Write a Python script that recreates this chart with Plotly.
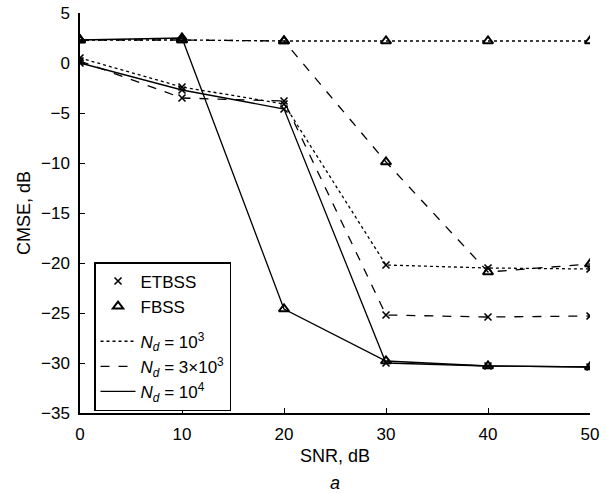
import plotly.graph_objects as go

snr = [0, 10, 20, 30, 40, 50]

# ETBSS (x markers)
etbss_1e3 = [0.5, -2.4, -4.1, -20.2, -20.5, -20.6]
etbss_3e3 = [0.2, -3.5, -3.8, -25.2, -25.4, -25.3]
etbss_1e4 = [0.0, -2.7, -4.6, -30.0, -30.3, -30.4]

# FBSS (triangle markers)
fbss_1e3 = [2.3, 2.3, 2.2, 2.2, 2.2, 2.2]
fbss_3e3 = [2.3, 2.3, 2.2, -9.9, -20.9, -20.1]
fbss_1e4 = [2.3, 2.5, -24.6, -29.8, -30.3, -30.4]

nd_labels = ["<i>N</i><sub><i>d</i></sub> = 10<sup>3</sup>",
             "<i>N</i><sub><i>d</i></sub> = 3\u00d710<sup>3</sup>",
             "<i>N</i><sub><i>d</i></sub> = 10<sup>4</sup>"]
dashes = ["dot", "dash", "solid"]

fig = go.Figure()
FONT = "Liberation Sans, Arial, sans-serif"

x_marker = dict(symbol="x-thin-open", size=7, color="black", line=dict(color="black", width=1.6))
tri_marker = dict(symbol="triangle-up-open", size=9, color="black", line=dict(color="black", width=2))

for ys, d in zip([etbss_1e3, etbss_3e3, etbss_1e4], dashes):
    fig.add_trace(go.Scatter(x=snr, y=ys, mode="lines+markers",
                             line=dict(color="black", width=1.3, dash=d),
                             marker=x_marker, showlegend=False))
for ys, d in zip([fbss_1e3, fbss_3e3, fbss_1e4], dashes):
    fig.add_trace(go.Scatter(x=snr, y=ys, mode="lines+markers",
                             line=dict(color="black", width=1.3, dash=d),
                             marker=tri_marker, showlegend=False))

# legend entries
fig.add_trace(go.Scatter(x=[None], y=[None], mode="markers", marker=x_marker,
                         name="ETBSS", legendgroup="m"))
fig.add_trace(go.Scatter(x=[None], y=[None], mode="markers", marker=tri_marker,
                         name="FBSS", legendgroup="m"))
for lab, d in zip(nd_labels, dashes):
    fig.add_trace(go.Scatter(x=[None], y=[None], mode="lines",
                             line=dict(color="black", width=1.3, dash=d),
                             name=lab, legendgroup="l"))

axis_common = dict(showline=True, linecolor="black", linewidth=1.5, ticks="inside",
                   ticklen=5, tickcolor="black", tickwidth=1, showgrid=False,
                   zeroline=False, mirror=False, automargin=False,
                   ticklabelstandoff=5,
                   tickfont=dict(family=FONT, size=17, color="black"))

fig.update_layout(
    width=607, height=493,
    margin=dict(l=80, r=17, t=13, b=80),
    plot_bgcolor="white", paper_bgcolor="white",
    font=dict(family=FONT, size=17, color="black"),
    xaxis=dict(range=[0, 50], dtick=10, tick0=0, **axis_common),
    yaxis=dict(range=[-35, 5], dtick=5, tick0=0, **axis_common),
    legend=dict(x=0.0275, y=0.3775, xanchor="left", yanchor="top",
                bgcolor="white", bordercolor="black", borderwidth=1.5,
                tracegroupgap=10, font=dict(family=FONT, size=17, color="black"),
                itemwidth=35),
    annotations=[
        dict(text="<i>a</i>", x=335, y=483, showarrow=False,
             font=dict(family=FONT, size=18, color="black")),
        dict(text="SNR, dB", x=335, y=456, showarrow=False,
             font=dict(family=FONT, size=18, color="black")),
        dict(text="CMSE, dB", x=24, y=213, showarrow=False, textangle=-90,
             font=dict(family=FONT, size=18, color="black")),
    ],
)

# convert pixel positions of annotations into paper coordinates
L, T, W, H = 80, 13, 510, 400
for a in fig.layout.annotations:
    px, py = a.x, a.y
    a.x = (px - L) / W
    a.y = 1 - (py - T) / H
    a.xref = "paper"
    a.yref = "paper"
    a.xanchor = "center"
    a.yanchor = "middle"

fig.write_html("out.html")
